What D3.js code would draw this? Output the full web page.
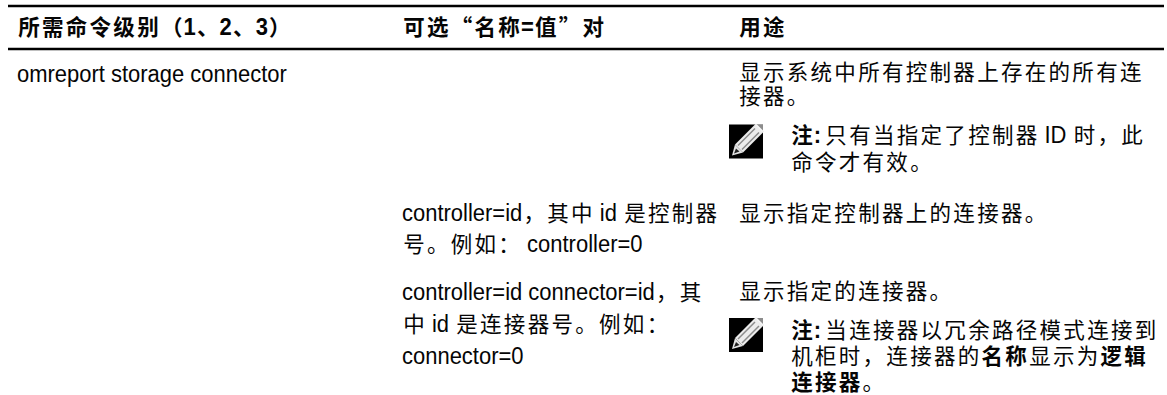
<!DOCTYPE html>
<html><head><meta charset="utf-8">
<script src="https://cdn.jsdelivr.net/npm/d3@7/dist/d3.min.js"></script>
<style>
html,body{margin:0;padding:0;background:#fff;overflow:hidden}
svg{display:block}
text{fill:#050505;white-space:pre}
</style></head><body><div id="c"></div>
<script>
const headers = ["所需命令级别（1、2、3）","可选“名称=值”对","用途"];
const col1Lines = ["omreport storage connector"];
const col2Lines = ["controller=id，其中 id 是控制器","号。例如： controller=0",
  "controller=id connector=id，其","中 id 是连接器号。例如：","connector=0"];
const col3Lines = [
  [["显示系统中所有控制器上存在的所有连",0]],
  [["接器。",0]],
  [["注:",1],[" 只有当指定了控制器 ID 时，此",0]],
  [["命令才有效。",0]],
  [["显示指定控制器上的连接器。",0]],
  [["显示指定的连接器。",0]],
  [["注:",1],[" 当连接器以冗余路径模式连接到",0]],
  [["机柜时，连接器的",0],["名称",1],["显示为",0],["逻辑",1]],
  [["连接器",1],["。",0]]
];
const col3Indented = [false,false,true,true,false,false,true,true,true];
const noteIcons = ["first","second"];

const W=1167,H=395, STEP=23.8, FS=21.5, LATIN=23, NARROW=0.955;
const colX=d3.scaleOrdinal().domain([0,1,2]).range([17,402,738]);
const noteX=790;
const headerBase=35, col1Base=[82];
const col2Base=[220.5,252,299.5,332,364];
const col3Base=[80,103.5,143,170,221,299,338,364,390];
const iconTop=[124.5,318];

const svg=d3.select("#c").append("svg").attr("width",W).attr("height",H).attr("viewBox",`0 0 ${W} ${H}`);
svg.append("rect").attr("width",W).attr("height",H).attr("fill","#fff");
const defs=svg.append("defs");
defs.append("filter").attr("id","soft").append("feGaussianBlur").attr("stdDeviation",0.55);
defs.append("clipPath").attr("id","iconClip").append("rect").attr("width",34).attr("height",34);
[6,49].forEach(v=>svg.append("line").attr("x1",8).attr("x2",1164).attr("y1",v).attr("y2",v).attr("stroke","#000").attr("stroke-width",2.4));

function drawRuns(x0,base,runs){
  let cur=x0;
  runs.forEach(([str,bold])=>{
    (str.match(/[\x20-\x7e]+|[^\x20-\x7e]+/g)||[]).forEach(seg=>{
      const latin=/^[\x20-\x7e]/.test(seg);
      const t=svg.append("text").attr("y",base)
        .attr("font-family",latin?"Liberation Sans":"Noto Sans CJK SC")
        .attr("font-size",latin?LATIN:FS)
        .attr("font-weight",bold?700:400)
        .attr("lang","zh-CN")
        .text(seg);
      if(latin){
        let w=t.node().getComputedTextLength()*NARROW;
        if(!seg.trim()) w*=0.5;
        t.attr("x",cur).attr("textLength",w).attr("lengthAdjust","spacingAndGlyphs");
        cur+=w;
      }else{
        const gap=STEP-FS;
        t.attr("x",cur+gap/2).attr("letter-spacing",gap);
        cur+=[...seg].length*STEP;
      }
    });
  });
}
headers.forEach((h,i)=>drawRuns(colX(i),headerBase,[[h,1]]));
col1Lines.forEach((l,i)=>drawRuns(colX(0),col1Base[i],[[l,0]]));
col2Lines.forEach((l,i)=>drawRuns(colX(1),col2Base[i],[[l,0]]));
col3Lines.forEach((l,i)=>drawRuns(col3Indented[i]?noteX:colX(2),col3Base[i],l));

noteIcons.forEach((n,i)=>{
  const g=svg.append("g").attr("transform",`translate(729,${iconTop[i]})`);
  g.append("rect").attr("width",34).attr("height",34).attr("fill","#000");
  const p=g.append("g").attr("filter","url(#soft)");
  p.append("path").attr("d","M27 -1 L35 7 L14 28 L6 20 Z").attr("fill","#ececec");
  p.append("path").attr("d","M26 4 L9 21 M30 8 L13 25").attr("stroke","#8c8c8c").attr("stroke-width",1.5).attr("fill","none");
  p.append("path").attr("d","M6 20 L3 31 L14 28 Z").attr("fill","#e4e4e4");
  p.append("path").attr("d","M5 29 L7 24 L10.5 27 Z").attr("fill","#222");
  g.append("path").attr("d","M26 0 L34 0 L34 8 Z").attr("fill","#fff").attr("opacity",0.55);
});
</script></body></html>
